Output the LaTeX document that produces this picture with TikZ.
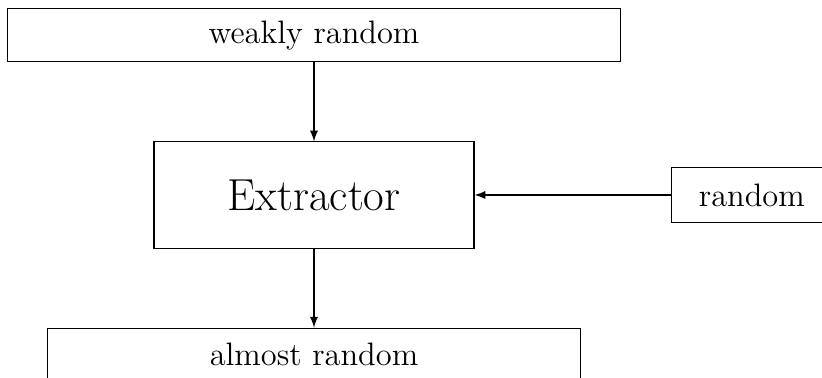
\documentclass[tikz,border=0pt]{standalone}
\usepackage{tikz}
\usetikzlibrary{positioning}

\begin{document}
\begin{tikzpicture}[box/.style={rectangle,draw,inner sep=0pt,font=\fontsize{12}{14}\selectfont},
  >=latex, node distance=1.027cm]
\useasboundingbox (-4.082,-2.379) rectangle (6.604,2.535);
\node [box,minimum width=4.16cm,minimum height=1.38cm,font=\fontsize{16.6}{20}\selectfont] (ext) {Extractor};
\node [box,minimum width=7.98cm,minimum height=0.69cm,above=of ext] (weak) {weakly random};
\node [box,minimum width=2.1cm,minimum height=0.715cm,right=2.548cm of ext] (rand) {random};
\node [box,minimum width=6.92cm,minimum height=0.69cm,below=of ext] (almost) {almost random};

\draw [->] (weak) -- (ext);
\draw [->] (rand) -- (ext);
\draw [->] (ext) -- (almost);

\end{tikzpicture}
\end{document}
